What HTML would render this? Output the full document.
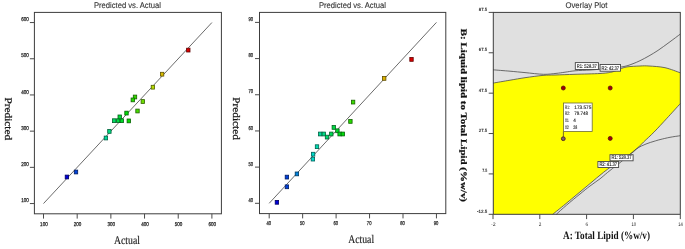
<!DOCTYPE html>
<html><head><meta charset="utf-8"><style>
html,body{margin:0;padding:0;background:#fff;}
body{width:685px;height:249px;overflow:hidden;}
svg{display:block;will-change:transform;}
</style></head><body>
<svg width="685" height="249" viewBox="0 0 685 249" text-rendering="geometricPrecision"><rect x="0" y="0" width="685" height="249" fill="#fff"/>
<rect x="34.4" y="12.4" width="187.0" height="201.4" fill="none" stroke="#3c3c3c" stroke-width="1"/>
<line x1="29.9" y1="203.55" x2="34.4" y2="203.55" stroke="#4a4a4a" stroke-width="1.0"/>
<line x1="43.5" y1="213.8" x2="43.5" y2="218.60000000000002" stroke="#4a4a4a" stroke-width="1.0"/>
<text x="28.799999999999997" y="202.15" font-family='"Liberation Sans", sans-serif' font-size="5.6" font-weight="normal" fill="#222" text-anchor="end" textLength="7.6" lengthAdjust="spacingAndGlyphs" stroke="#222" stroke-width="0.25">100</text>
<text x="43.9" y="226.20000000000002" font-family='"Liberation Sans", sans-serif' font-size="5.6" font-weight="normal" fill="#222" text-anchor="middle" textLength="7.6" lengthAdjust="spacingAndGlyphs" stroke="#222" stroke-width="0.25">100</text>
<line x1="29.9" y1="167.35000000000002" x2="34.4" y2="167.35000000000002" stroke="#4a4a4a" stroke-width="1.0"/>
<line x1="77.18" y1="213.8" x2="77.18" y2="218.60000000000002" stroke="#4a4a4a" stroke-width="1.0"/>
<text x="28.799999999999997" y="165.95000000000002" font-family='"Liberation Sans", sans-serif' font-size="5.6" font-weight="normal" fill="#222" text-anchor="end" textLength="7.6" lengthAdjust="spacingAndGlyphs" stroke="#222" stroke-width="0.25">200</text>
<text x="77.58000000000001" y="226.20000000000002" font-family='"Liberation Sans", sans-serif' font-size="5.6" font-weight="normal" fill="#222" text-anchor="middle" textLength="7.6" lengthAdjust="spacingAndGlyphs" stroke="#222" stroke-width="0.25">200</text>
<line x1="29.9" y1="131.15000000000003" x2="34.4" y2="131.15000000000003" stroke="#4a4a4a" stroke-width="1.0"/>
<line x1="110.86" y1="213.8" x2="110.86" y2="218.60000000000002" stroke="#4a4a4a" stroke-width="1.0"/>
<text x="28.799999999999997" y="129.75000000000003" font-family='"Liberation Sans", sans-serif' font-size="5.6" font-weight="normal" fill="#222" text-anchor="end" textLength="7.6" lengthAdjust="spacingAndGlyphs" stroke="#222" stroke-width="0.25">300</text>
<text x="111.26" y="226.20000000000002" font-family='"Liberation Sans", sans-serif' font-size="5.6" font-weight="normal" fill="#222" text-anchor="middle" textLength="7.6" lengthAdjust="spacingAndGlyphs" stroke="#222" stroke-width="0.25">300</text>
<line x1="29.9" y1="94.95000000000002" x2="34.4" y2="94.95000000000002" stroke="#4a4a4a" stroke-width="1.0"/>
<line x1="144.54" y1="213.8" x2="144.54" y2="218.60000000000002" stroke="#4a4a4a" stroke-width="1.0"/>
<text x="28.799999999999997" y="93.55000000000001" font-family='"Liberation Sans", sans-serif' font-size="5.6" font-weight="normal" fill="#222" text-anchor="end" textLength="7.6" lengthAdjust="spacingAndGlyphs" stroke="#222" stroke-width="0.25">400</text>
<text x="144.94" y="226.20000000000002" font-family='"Liberation Sans", sans-serif' font-size="5.6" font-weight="normal" fill="#222" text-anchor="middle" textLength="7.6" lengthAdjust="spacingAndGlyphs" stroke="#222" stroke-width="0.25">400</text>
<line x1="29.9" y1="58.75000000000003" x2="34.4" y2="58.75000000000003" stroke="#4a4a4a" stroke-width="1.0"/>
<line x1="178.22" y1="213.8" x2="178.22" y2="218.60000000000002" stroke="#4a4a4a" stroke-width="1.0"/>
<text x="28.799999999999997" y="57.35000000000003" font-family='"Liberation Sans", sans-serif' font-size="5.6" font-weight="normal" fill="#222" text-anchor="end" textLength="7.6" lengthAdjust="spacingAndGlyphs" stroke="#222" stroke-width="0.25">500</text>
<text x="178.62" y="226.20000000000002" font-family='"Liberation Sans", sans-serif' font-size="5.6" font-weight="normal" fill="#222" text-anchor="middle" textLength="7.6" lengthAdjust="spacingAndGlyphs" stroke="#222" stroke-width="0.25">500</text>
<line x1="29.9" y1="22.55000000000001" x2="34.4" y2="22.55000000000001" stroke="#4a4a4a" stroke-width="1.0"/>
<line x1="211.9" y1="213.8" x2="211.9" y2="218.60000000000002" stroke="#4a4a4a" stroke-width="1.0"/>
<text x="28.799999999999997" y="21.150000000000013" font-family='"Liberation Sans", sans-serif' font-size="5.6" font-weight="normal" fill="#222" text-anchor="end" textLength="7.6" lengthAdjust="spacingAndGlyphs" stroke="#222" stroke-width="0.25">600</text>
<text x="212.3" y="226.20000000000002" font-family='"Liberation Sans", sans-serif' font-size="5.6" font-weight="normal" fill="#222" text-anchor="middle" textLength="7.6" lengthAdjust="spacingAndGlyphs" stroke="#222" stroke-width="0.25">600</text>
<line x1="43.5" y1="203.55" x2="211.9" y2="22.55000000000001" stroke="#5a5a5a" stroke-width="0.9"/>
<rect x="65.20" y="175.10" width="3.4" height="3.8" fill="#0000db" stroke="#000060" stroke-width="0.8"/>
<rect x="74.30" y="170.10" width="3.4" height="3.8" fill="#0041db" stroke="#001c60" stroke-width="0.8"/>
<rect x="104.20" y="136.10" width="3.4" height="3.8" fill="#00db9c" stroke="#006045" stroke-width="0.8"/>
<rect x="107.70" y="129.50" width="3.4" height="3.8" fill="#00db82" stroke="#006039" stroke-width="0.8"/>
<rect x="112.50" y="118.80" width="3.4" height="3.8" fill="#00db60" stroke="#00602a" stroke-width="0.8"/>
<rect x="116.60" y="118.80" width="3.4" height="3.8" fill="#00db43" stroke="#00601d" stroke-width="0.8"/>
<rect x="120.10" y="118.80" width="3.4" height="3.8" fill="#00db29" stroke="#006012" stroke-width="0.8"/>
<rect x="118.00" y="115.00" width="3.4" height="3.8" fill="#00db38" stroke="#006019" stroke-width="0.8"/>
<rect x="127.10" y="119.00" width="3.4" height="3.8" fill="#08db00" stroke="#036000" stroke-width="0.8"/>
<rect x="124.80" y="111.20" width="3.4" height="3.8" fill="#00db07" stroke="#006003" stroke-width="0.8"/>
<rect x="135.80" y="109.10" width="3.4" height="3.8" fill="#47db00" stroke="#1f6000" stroke-width="0.8"/>
<rect x="133.30" y="95.10" width="3.4" height="3.8" fill="#35db00" stroke="#176000" stroke-width="0.8"/>
<rect x="131.10" y="98.00" width="3.4" height="3.8" fill="#24db00" stroke="#106000" stroke-width="0.8"/>
<rect x="141.10" y="99.60" width="3.4" height="3.8" fill="#6ddb00" stroke="#306000" stroke-width="0.8"/>
<rect x="151.20" y="85.30" width="3.4" height="3.8" fill="#b6db00" stroke="#506000" stroke-width="0.8"/>
<rect x="160.40" y="72.30" width="3.4" height="3.8" fill="#dbbd00" stroke="#605300" stroke-width="0.8"/>
<rect x="186.60" y="48.20" width="3.4" height="3.8" fill="#db0000" stroke="#600000" stroke-width="0.8"/>
<text x="93.9" y="8.1" font-family='"Liberation Sans", sans-serif' font-size="8.2" font-weight="normal" fill="#333" text-anchor="start" textLength="67.1" lengthAdjust="spacingAndGlyphs" stroke="#333" stroke-width="0.1">Predicted vs. Actual</text>
<text x="114.0" y="243.9" font-family='"Liberation Serif", serif' font-size="11.7" font-weight="normal" fill="#1a1a1a" text-anchor="start" textLength="26.0" lengthAdjust="spacingAndGlyphs" stroke="#1a1a1a" stroke-width="0.15">Actual</text>
<text transform="translate(5.0,97.4) scale(0.9,1) rotate(90)" x="0" y="0" font-family='"Liberation Serif", serif' font-size="11.2" font-weight="normal" fill="#111" stroke="#111" stroke-width="0.3" textLength="42.8" lengthAdjust="spacingAndGlyphs">Predicted</text>
<rect x="259.5" y="12.4" width="186.3" height="201.2" fill="none" stroke="#3c3c3c" stroke-width="1"/>
<line x1="255.0" y1="203.3" x2="259.5" y2="203.3" stroke="#4a4a4a" stroke-width="1.0"/>
<line x1="269.2" y1="213.6" x2="269.2" y2="218.4" stroke="#4a4a4a" stroke-width="1.0"/>
<text x="253.1" y="201.9" font-family='"Liberation Sans", sans-serif' font-size="5.6" font-weight="normal" fill="#222" text-anchor="end" textLength="4.6" lengthAdjust="spacingAndGlyphs" stroke="#222" stroke-width="0.25">40</text>
<text x="268.8" y="225.4" font-family='"Liberation Sans", sans-serif' font-size="5.6" font-weight="normal" fill="#222" text-anchor="middle" textLength="4.6" lengthAdjust="spacingAndGlyphs" stroke="#222" stroke-width="0.25">40</text>
<line x1="255.0" y1="167.12" x2="259.5" y2="167.12" stroke="#4a4a4a" stroke-width="1.0"/>
<line x1="302.65" y1="213.6" x2="302.65" y2="218.4" stroke="#4a4a4a" stroke-width="1.0"/>
<text x="253.1" y="165.72" font-family='"Liberation Sans", sans-serif' font-size="5.6" font-weight="normal" fill="#222" text-anchor="end" textLength="4.6" lengthAdjust="spacingAndGlyphs" stroke="#222" stroke-width="0.25">50</text>
<text x="302.25" y="225.4" font-family='"Liberation Sans", sans-serif' font-size="5.6" font-weight="normal" fill="#222" text-anchor="middle" textLength="4.6" lengthAdjust="spacingAndGlyphs" stroke="#222" stroke-width="0.25">50</text>
<line x1="255.0" y1="130.94" x2="259.5" y2="130.94" stroke="#4a4a4a" stroke-width="1.0"/>
<line x1="336.1" y1="213.6" x2="336.1" y2="218.4" stroke="#4a4a4a" stroke-width="1.0"/>
<text x="253.1" y="129.54" font-family='"Liberation Sans", sans-serif' font-size="5.6" font-weight="normal" fill="#222" text-anchor="end" textLength="4.6" lengthAdjust="spacingAndGlyphs" stroke="#222" stroke-width="0.25">60</text>
<text x="335.70000000000005" y="225.4" font-family='"Liberation Sans", sans-serif' font-size="5.6" font-weight="normal" fill="#222" text-anchor="middle" textLength="4.6" lengthAdjust="spacingAndGlyphs" stroke="#222" stroke-width="0.25">60</text>
<line x1="255.0" y1="94.76000000000002" x2="259.5" y2="94.76000000000002" stroke="#4a4a4a" stroke-width="1.0"/>
<line x1="369.55" y1="213.6" x2="369.55" y2="218.4" stroke="#4a4a4a" stroke-width="1.0"/>
<text x="253.1" y="93.36000000000001" font-family='"Liberation Sans", sans-serif' font-size="5.6" font-weight="normal" fill="#222" text-anchor="end" textLength="4.6" lengthAdjust="spacingAndGlyphs" stroke="#222" stroke-width="0.25">70</text>
<text x="369.15000000000003" y="225.4" font-family='"Liberation Sans", sans-serif' font-size="5.6" font-weight="normal" fill="#222" text-anchor="middle" textLength="4.6" lengthAdjust="spacingAndGlyphs" stroke="#222" stroke-width="0.25">70</text>
<line x1="255.0" y1="58.58000000000001" x2="259.5" y2="58.58000000000001" stroke="#4a4a4a" stroke-width="1.0"/>
<line x1="403.0" y1="213.6" x2="403.0" y2="218.4" stroke="#4a4a4a" stroke-width="1.0"/>
<text x="253.1" y="57.180000000000014" font-family='"Liberation Sans", sans-serif' font-size="5.6" font-weight="normal" fill="#222" text-anchor="end" textLength="4.6" lengthAdjust="spacingAndGlyphs" stroke="#222" stroke-width="0.25">80</text>
<text x="402.6" y="225.4" font-family='"Liberation Sans", sans-serif' font-size="5.6" font-weight="normal" fill="#222" text-anchor="middle" textLength="4.6" lengthAdjust="spacingAndGlyphs" stroke="#222" stroke-width="0.25">80</text>
<line x1="255.0" y1="22.400000000000006" x2="259.5" y2="22.400000000000006" stroke="#4a4a4a" stroke-width="1.0"/>
<line x1="436.45" y1="213.6" x2="436.45" y2="218.4" stroke="#4a4a4a" stroke-width="1.0"/>
<text x="253.1" y="21.000000000000007" font-family='"Liberation Sans", sans-serif' font-size="5.6" font-weight="normal" fill="#222" text-anchor="end" textLength="4.6" lengthAdjust="spacingAndGlyphs" stroke="#222" stroke-width="0.25">90</text>
<text x="436.05" y="225.4" font-family='"Liberation Sans", sans-serif' font-size="5.6" font-weight="normal" fill="#222" text-anchor="middle" textLength="4.6" lengthAdjust="spacingAndGlyphs" stroke="#222" stroke-width="0.25">90</text>
<line x1="269.2" y1="203.3" x2="436.45" y2="22.400000000000006" stroke="#5a5a5a" stroke-width="0.9"/>
<rect x="275.20" y="200.40" width="3.4" height="3.8" fill="#0000db" stroke="#000060" stroke-width="0.8"/>
<rect x="285.20" y="184.90" width="3.4" height="3.8" fill="#0040db" stroke="#001c60" stroke-width="0.8"/>
<rect x="285.20" y="175.20" width="3.4" height="3.8" fill="#0040db" stroke="#001c60" stroke-width="0.8"/>
<rect x="295.20" y="172.00" width="3.4" height="3.8" fill="#0081db" stroke="#003960" stroke-width="0.8"/>
<rect x="311.20" y="157.20" width="3.4" height="3.8" fill="#00dbcb" stroke="#00605a" stroke-width="0.8"/>
<rect x="311.40" y="152.30" width="3.4" height="3.8" fill="#00dbca" stroke="#006059" stroke-width="0.8"/>
<rect x="315.30" y="144.80" width="3.4" height="3.8" fill="#00dbb1" stroke="#00604e" stroke-width="0.8"/>
<rect x="318.50" y="132.10" width="3.4" height="3.8" fill="#00db9b" stroke="#006044" stroke-width="0.8"/>
<rect x="322.10" y="132.10" width="3.4" height="3.8" fill="#00db84" stroke="#00603a" stroke-width="0.8"/>
<rect x="325.30" y="135.20" width="3.4" height="3.8" fill="#00db6f" stroke="#006031" stroke-width="0.8"/>
<rect x="329.60" y="132.10" width="3.4" height="3.8" fill="#00db53" stroke="#006024" stroke-width="0.8"/>
<rect x="332.10" y="125.50" width="3.4" height="3.8" fill="#00db43" stroke="#00601d" stroke-width="0.8"/>
<rect x="335.70" y="128.90" width="3.4" height="3.8" fill="#00db2b" stroke="#006013" stroke-width="0.8"/>
<rect x="337.90" y="132.10" width="3.4" height="3.8" fill="#00db1d" stroke="#00600c" stroke-width="0.8"/>
<rect x="341.10" y="132.10" width="3.4" height="3.8" fill="#00db08" stroke="#006003" stroke-width="0.8"/>
<rect x="348.70" y="119.50" width="3.4" height="3.8" fill="#27db00" stroke="#116000" stroke-width="0.8"/>
<rect x="351.40" y="100.20" width="3.4" height="3.8" fill="#39db00" stroke="#196000" stroke-width="0.8"/>
<rect x="382.50" y="76.50" width="3.4" height="3.8" fill="#dbb100" stroke="#604e00" stroke-width="0.8"/>
<rect x="409.80" y="57.50" width="3.4" height="3.8" fill="#db0000" stroke="#600000" stroke-width="0.8"/>
<text x="318.9" y="8.3" font-family='"Liberation Sans", sans-serif' font-size="8.2" font-weight="normal" fill="#333" text-anchor="start" textLength="67.1" lengthAdjust="spacingAndGlyphs" stroke="#333" stroke-width="0.1">Predicted vs. Actual</text>
<text x="348.3" y="242.8" font-family='"Liberation Serif", serif' font-size="11.7" font-weight="normal" fill="#1a1a1a" text-anchor="start" textLength="25.8" lengthAdjust="spacingAndGlyphs" stroke="#1a1a1a" stroke-width="0.15">Actual</text>
<text transform="translate(233.0,97.3) scale(0.9,1) rotate(90)" x="0" y="0" font-family='"Liberation Serif", serif' font-size="11.2" font-weight="normal" fill="#111" stroke="#111" stroke-width="0.3" textLength="42.6" lengthAdjust="spacingAndGlyphs">Predicted</text>
<rect x="493.3" y="12.4" width="186.99999999999994" height="201.9" fill="#e0e0e0"/>
<path d="M493.00,83.10 C495.83,82.62 504.67,81.10 510.00,80.20 C515.33,79.30 519.50,78.50 525.00,77.70 C530.50,76.90 538.00,75.85 543.00,75.40 C548.00,74.95 549.67,75.18 555.00,75.00 C560.33,74.82 567.50,74.55 575.00,74.30 C582.50,74.05 593.83,73.88 600.00,73.50 C606.17,73.12 608.67,72.75 612.00,72.00 C615.33,71.25 617.50,69.85 620.00,69.00 C622.50,68.15 623.67,67.40 627.00,66.90 C630.33,66.40 636.33,66.15 640.00,66.00 C643.67,65.85 644.83,65.72 649.00,66.00 C653.17,66.28 659.78,66.57 665.00,67.70 C670.22,68.83 677.75,71.95 680.30,72.80 L680.3,103.6 L680.30,103.60 C678.08,106.03 671.37,113.47 667.00,118.20 C662.63,122.93 658.00,128.03 654.10,132.00 C650.20,135.97 647.08,138.67 643.60,142.00 C640.12,145.33 637.13,148.95 633.20,152.00 C629.27,155.05 624.92,156.93 620.00,160.30 C615.08,163.67 608.70,168.32 603.70,172.20 C598.70,176.08 594.28,180.03 590.00,183.60 C585.72,187.17 582.17,190.13 578.00,193.60 C573.83,197.07 569.22,200.95 565.00,204.40 C560.78,207.85 554.75,212.65 552.70,214.30 L493.3,214.3 Z" fill="#ffff00" stroke="none"/>
<path d="M493.00,83.10 C495.83,82.62 504.67,81.10 510.00,80.20 C515.33,79.30 519.50,78.50 525.00,77.70 C530.50,76.90 538.00,75.85 543.00,75.40 C548.00,74.95 549.67,75.18 555.00,75.00 C560.33,74.82 567.50,74.55 575.00,74.30 C582.50,74.05 593.83,73.88 600.00,73.50 C606.17,73.12 608.67,72.75 612.00,72.00 C615.33,71.25 617.50,69.85 620.00,69.00 C622.50,68.15 623.67,67.40 627.00,66.90 C630.33,66.40 636.33,66.15 640.00,66.00 C643.67,65.85 644.83,65.72 649.00,66.00 C653.17,66.28 659.78,66.57 665.00,67.70 C670.22,68.83 677.75,71.95 680.30,72.80" fill="none" stroke="#4a4a4a" stroke-width="0.8"/>
<path d="M680.30,103.60 C678.08,106.03 671.37,113.47 667.00,118.20 C662.63,122.93 658.00,128.03 654.10,132.00 C650.20,135.97 647.08,138.67 643.60,142.00 C640.12,145.33 637.13,148.95 633.20,152.00 C629.27,155.05 624.92,156.93 620.00,160.30 C615.08,163.67 608.70,168.32 603.70,172.20 C598.70,176.08 594.28,180.03 590.00,183.60 C585.72,187.17 582.17,190.13 578.00,193.60 C573.83,197.07 569.22,200.95 565.00,204.40 C560.78,207.85 554.75,212.65 552.70,214.30" fill="none" stroke="#4a4a4a" stroke-width="0.8"/>
<path d="M493.00,69.80 C495.83,70.03 504.67,70.73 510.00,71.20 C515.33,71.67 519.42,72.08 525.00,72.60 C530.58,73.12 538.33,74.17 543.50,74.30 C548.67,74.43 552.42,73.75 556.00,73.40 C559.58,73.05 561.83,72.63 565.00,72.20 C568.17,71.77 570.83,71.17 575.00,70.80 C579.17,70.43 585.83,70.27 590.00,70.00 C594.17,69.73 596.33,69.50 600.00,69.20 C603.67,68.90 608.55,68.55 612.00,68.20 C615.45,67.85 618.20,67.50 620.70,67.10 C623.20,66.70 624.95,66.37 627.00,65.80 C629.05,65.23 630.83,64.55 633.00,63.70 C635.17,62.85 637.33,62.00 640.00,60.70 C642.67,59.40 646.00,57.62 649.00,55.90 C652.00,54.18 654.67,52.63 658.00,50.40 C661.33,48.17 665.28,45.22 669.00,42.50 C672.72,39.78 678.42,35.50 680.30,34.10" fill="none" stroke="#4a4a4a" stroke-width="0.8"/>
<path d="M556.30,214.30 C558.00,212.78 562.55,208.58 566.50,205.20 C570.45,201.82 576.08,197.20 580.00,194.00 C583.92,190.80 586.67,188.53 590.00,186.00 C593.33,183.47 597.08,181.05 600.00,178.80 C602.92,176.55 604.50,174.93 607.50,172.50 C610.50,170.07 614.58,166.92 618.00,164.20 C621.42,161.48 624.93,158.77 628.00,156.20 C631.07,153.63 633.40,150.83 636.40,148.80 C639.40,146.77 643.05,145.25 646.00,144.00 C648.95,142.75 651.77,142.03 654.10,141.30 C656.43,140.57 657.35,140.27 660.00,139.60 C662.65,138.93 666.62,137.95 670.00,137.30 C673.38,136.65 678.58,135.97 680.30,135.70" fill="none" stroke="#4a4a4a" stroke-width="0.8"/>
<rect x="493.3" y="12.4" width="186.99999999999994" height="201.9" fill="none" stroke="#3c3c3c" stroke-width="1"/>
<line x1="488.7" y1="12.4" x2="493.3" y2="12.4" stroke="#4a4a4a" stroke-width="1.0"/>
<text x="487.2" y="10.8" font-family='"Liberation Sans", sans-serif' font-size="4.7" font-weight="normal" fill="#222" text-anchor="end" textLength="8.4" lengthAdjust="spacingAndGlyphs" stroke="#222" stroke-width="0.15">87.5</text>
<line x1="488.7" y1="52.78" x2="493.3" y2="52.78" stroke="#4a4a4a" stroke-width="1.0"/>
<text x="487.2" y="51.18" font-family='"Liberation Sans", sans-serif' font-size="4.7" font-weight="normal" fill="#222" text-anchor="end" textLength="8.4" lengthAdjust="spacingAndGlyphs" stroke="#222" stroke-width="0.15">67.5</text>
<line x1="488.7" y1="93.16000000000001" x2="493.3" y2="93.16000000000001" stroke="#4a4a4a" stroke-width="1.0"/>
<text x="487.2" y="91.56000000000002" font-family='"Liberation Sans", sans-serif' font-size="4.7" font-weight="normal" fill="#222" text-anchor="end" textLength="8.4" lengthAdjust="spacingAndGlyphs" stroke="#222" stroke-width="0.15">47.5</text>
<line x1="488.7" y1="133.54000000000002" x2="493.3" y2="133.54000000000002" stroke="#4a4a4a" stroke-width="1.0"/>
<text x="487.2" y="131.94000000000003" font-family='"Liberation Sans", sans-serif' font-size="4.7" font-weight="normal" fill="#222" text-anchor="end" textLength="8.4" lengthAdjust="spacingAndGlyphs" stroke="#222" stroke-width="0.15">27.5</text>
<line x1="488.7" y1="173.92000000000002" x2="493.3" y2="173.92000000000002" stroke="#4a4a4a" stroke-width="1.0"/>
<text x="487.2" y="172.32000000000002" font-family='"Liberation Sans", sans-serif' font-size="4.7" font-weight="normal" fill="#222" text-anchor="end" textLength="5.0" lengthAdjust="spacingAndGlyphs" stroke="#222" stroke-width="0.15">7.5</text>
<line x1="488.7" y1="214.3" x2="493.3" y2="214.3" stroke="#4a4a4a" stroke-width="1.0"/>
<text x="487.2" y="212.70000000000002" font-family='"Liberation Sans", sans-serif' font-size="4.7" font-weight="normal" fill="#222" text-anchor="end" textLength="10.2" lengthAdjust="spacingAndGlyphs" stroke="#222" stroke-width="0.15">-12.5</text>
<line x1="493.0" y1="214.3" x2="493.0" y2="219.10000000000002" stroke="#4a4a4a" stroke-width="1.0"/>
<text x="493.3" y="226.0" font-family='"Liberation Sans", sans-serif' font-size="5.2" font-weight="normal" fill="#222" text-anchor="middle" textLength="4.6" lengthAdjust="spacingAndGlyphs">-2</text>
<line x1="539.8" y1="214.3" x2="539.8" y2="219.10000000000002" stroke="#4a4a4a" stroke-width="1.0"/>
<text x="540.0999999999999" y="226.0" font-family='"Liberation Sans", sans-serif' font-size="5.2" font-weight="normal" fill="#222" text-anchor="middle" textLength="2.6" lengthAdjust="spacingAndGlyphs">2</text>
<line x1="586.6" y1="214.3" x2="586.6" y2="219.10000000000002" stroke="#4a4a4a" stroke-width="1.0"/>
<text x="586.9" y="226.0" font-family='"Liberation Sans", sans-serif' font-size="5.2" font-weight="normal" fill="#222" text-anchor="middle" textLength="2.6" lengthAdjust="spacingAndGlyphs">6</text>
<line x1="633.4" y1="214.3" x2="633.4" y2="219.10000000000002" stroke="#4a4a4a" stroke-width="1.0"/>
<text x="633.6999999999999" y="226.0" font-family='"Liberation Sans", sans-serif' font-size="5.2" font-weight="normal" fill="#222" text-anchor="middle" textLength="4.6" lengthAdjust="spacingAndGlyphs">10</text>
<line x1="680.3" y1="214.3" x2="680.3" y2="219.10000000000002" stroke="#4a4a4a" stroke-width="1.0"/>
<text x="680.5999999999999" y="226.0" font-family='"Liberation Sans", sans-serif' font-size="5.2" font-weight="normal" fill="#222" text-anchor="middle" textLength="4.6" lengthAdjust="spacingAndGlyphs">14</text>
<rect x="575.3" y="62.6" width="23.100000000000023" height="6.899999999999999" fill="#fff" stroke="#444" stroke-width="0.9"/>
<text x="576.8" y="68.0" font-family='"Liberation Sans", sans-serif' font-size="5.4" font-weight="normal" fill="#111" text-anchor="start" textLength="20.100000000000023" lengthAdjust="spacingAndGlyphs" stroke="#111" stroke-width="0.12">R1: 528.37</text>
<rect x="600.1" y="64.5" width="20.399999999999977" height="6.700000000000003" fill="#fff" stroke="#444" stroke-width="0.9"/>
<text x="601.6" y="69.7" font-family='"Liberation Sans", sans-serif' font-size="5.4" font-weight="normal" fill="#111" text-anchor="start" textLength="17.399999999999977" lengthAdjust="spacingAndGlyphs" stroke="#111" stroke-width="0.12">R2: 42.37</text>
<rect x="610.0" y="154.7" width="23.100000000000023" height="6.100000000000023" fill="#fff" stroke="#444" stroke-width="0.9"/>
<text x="611.5" y="159.3" font-family='"Liberation Sans", sans-serif' font-size="5.4" font-weight="normal" fill="#111" text-anchor="start" textLength="20.100000000000023" lengthAdjust="spacingAndGlyphs" stroke="#111" stroke-width="0.12">R1: 528.37</text>
<rect x="597.9" y="161.5" width="20.700000000000045" height="6.0" fill="#fff" stroke="#444" stroke-width="0.9"/>
<text x="599.4" y="166.0" font-family='"Liberation Sans", sans-serif' font-size="5.4" font-weight="normal" fill="#111" text-anchor="start" textLength="17.700000000000045" lengthAdjust="spacingAndGlyphs" stroke="#111" stroke-width="0.12">R2: 41.37</text>
<circle cx="563.3" cy="88.0" r="2.0" fill="#a00000" stroke="#5a1010" stroke-width="0.8"/>
<circle cx="610.2" cy="88.0" r="2.0" fill="#a00000" stroke="#5a1010" stroke-width="0.8"/>
<circle cx="610.2" cy="138.4" r="2.0" fill="#a00000" stroke="#5a1010" stroke-width="0.8"/>
<line x1="563.4" y1="131.4" x2="563.4" y2="136.8" stroke="#6b5a2a" stroke-width="0.9"/>
<circle cx="563.3" cy="138.7" r="1.9" fill="#806070" stroke="#4a1e1e" stroke-width="0.9"/>
<rect x="563.6" y="103.0" width="28.6" height="28.4" fill="#fff" stroke="#6b6b3a" stroke-width="0.8"/>
<text x="565.0" y="108.6" font-family='"Liberation Sans", sans-serif' font-size="4.9" font-weight="normal" fill="#222" text-anchor="start" textLength="4.6" lengthAdjust="spacingAndGlyphs" stroke="#222" stroke-width="0.12">R1:</text>
<text x="574.3" y="108.6" font-family='"Liberation Sans", sans-serif' font-size="4.9" font-weight="normal" fill="#222" text-anchor="start" textLength="17.0" lengthAdjust="spacingAndGlyphs" stroke="#222" stroke-width="0.12">173.575</text>
<text x="565.0" y="115.35" font-family='"Liberation Sans", sans-serif' font-size="4.9" font-weight="normal" fill="#222" text-anchor="start" textLength="4.6" lengthAdjust="spacingAndGlyphs" stroke="#222" stroke-width="0.12">R2:</text>
<text x="574.3" y="115.35" font-family='"Liberation Sans", sans-serif' font-size="4.9" font-weight="normal" fill="#222" text-anchor="start" textLength="13.8" lengthAdjust="spacingAndGlyphs" stroke="#222" stroke-width="0.12">79.748</text>
<text x="565.0" y="122.1" font-family='"Liberation Sans", sans-serif' font-size="4.9" font-weight="normal" fill="#222" text-anchor="start" textLength="3.8" lengthAdjust="spacingAndGlyphs" stroke="#222" stroke-width="0.12">X1</text>
<text x="573.2" y="122.1" font-family='"Liberation Sans", sans-serif' font-size="4.9" font-weight="normal" fill="#222" text-anchor="start" textLength="2.6" lengthAdjust="spacingAndGlyphs" stroke="#222" stroke-width="0.12">4</text>
<text x="565.0" y="128.85" font-family='"Liberation Sans", sans-serif' font-size="4.9" font-weight="normal" fill="#222" text-anchor="start" textLength="3.8" lengthAdjust="spacingAndGlyphs" stroke="#222" stroke-width="0.12">X2</text>
<text x="573.2" y="128.85" font-family='"Liberation Sans", sans-serif' font-size="4.9" font-weight="normal" fill="#222" text-anchor="start" textLength="4.0" lengthAdjust="spacingAndGlyphs" stroke="#222" stroke-width="0.12">28</text>
<text x="565.5" y="8.4" font-family='"Liberation Sans", sans-serif' font-size="8.3" font-weight="normal" fill="#333" text-anchor="start" textLength="41.9" lengthAdjust="spacingAndGlyphs" stroke="#333" stroke-width="0.1">Overlay Plot</text>
<text x="563.0" y="239.0" font-family='"Liberation Serif", serif' font-size="11.2" font-weight="bold" fill="#111" text-anchor="start" textLength="87.0" lengthAdjust="spacingAndGlyphs">A: Total Lipid (%w/v)</text>
<text transform="translate(461.0,28.8) scale(0.78,1) rotate(90)" x="0" y="0" font-family='"Liberation Serif", serif' font-size="10.85" font-weight="bold" fill="#111" stroke="#111" stroke-width="0.3" textLength="173.2" lengthAdjust="spacingAndGlyphs">B: Liquid lipid to Total Lipid (%w/v)</text></svg>
</body></html>
